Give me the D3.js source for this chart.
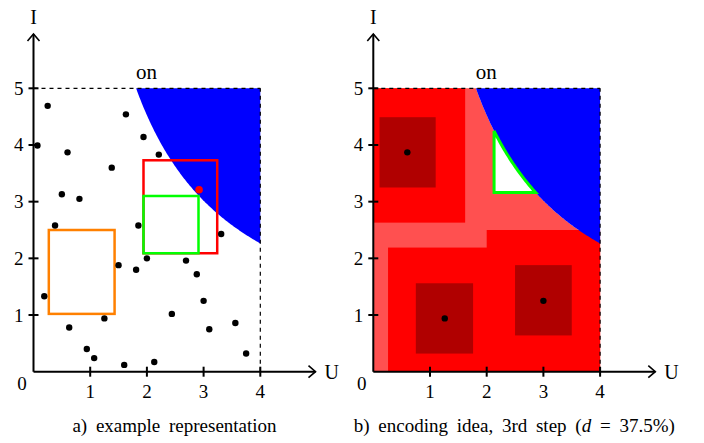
<!DOCTYPE html>
<html><head><meta charset="utf-8">
<script src="https://cdn.jsdelivr.net/npm/d3@7"></script>
<style>body{margin:0;background:#fff}svg{display:block}text{font-family:"Liberation Serif","Times New Roman",serif;fill:#000}</style>
</head><body><svg id="c" width="704" height="443"></svg>
<script>
// ---- data ----
const uTicks = [1, 2, 3, 4];
const iTicks = [1, 2, 3, 4, 5];
const uMax = 4, iMax = 5;
const powerLimit = 9.05;              // boundary of "on" region: U * I = P
const pointsU = [0.25,1.63,0.07,1.94,0.60,2.21,1.38,0.50,0.81,0.38,1.85,3.31,1.50,2.00,1.81,2.69,2.88,0.19,3.00,2.44,1.25,0.63,3.10,3.56,0.94,1.07,1.60,2.13,3.75];
const pointsI = [4.69,4.54,3.99,4.14,3.87,3.83,3.60,3.13,3.05,2.58,2.58,2.43,1.88,2.00,1.80,1.96,1.72,1.33,1.25,1.02,0.94,0.78,0.75,0.86,0.40,0.24,0.12,0.17,0.32];
const highlightPoint = [2.92, 3.21];
// rectangles: [u0, u1, i0, i1]
const redRect = [1.94, 3.24, 2.09, 3.73];
const greenRect = [1.94, 2.91, 2.09, 3.10];
const orangeRect = [0.27, 1.43, 1.02, 2.50];
// panel b
const redAreas = [[0, 1.62, 2.63, 5], [0.26, 4, 0, 2.19], [2.0, 4, 0, 2.50]];
const darkRects = [[0.11, 1.10, 3.25, 4.49], [0.75, 1.76, 0.32, 1.56], [2.50, 3.50, 0.64, 1.88]];
const darkPointsU = [0.60, 1.26, 3.00];
const darkPointsI = [3.87, 0.94, 1.25];
const triangleCorner = [2.13, 3.16];
const captions = ["a) example representation", "b) encoding idea, 3rd step ("];

const svg = d3.select("#c");

function panel(x0, caption, isB) {
  const x = d3.scaleLinear().domain([0, uMax]).range([x0, x0 + 226.8]);
  const y = d3.scaleLinear().domain([0, iMax]).range([371.7, 88.3]);
  const g = svg.append("g");
  const curveU = d3.range(powerLimit / iMax, uMax + 0.0001, 0.02).concat([uMax]);
  const curve = curveU.map(u => [x(u), y(powerLimit / u)]);

  if (isB) {
    const under = [[x(0), y(0)], [x(0), y(iMax)]].concat(curve).concat([[x(uMax), y(0)]]);
    g.append("path").attr("d", d3.line()(under)).attr("fill", "#ff5050");
    redAreas.forEach(r => g.append("rect").attr("x", x(r[0])).attr("y", y(r[3]))
      .attr("width", x(r[1]) - x(r[0])).attr("height", y(r[2]) - y(r[3])).attr("fill", "#ff0000"));
    darkRects.forEach(r => g.append("rect").attr("x", x(r[0])).attr("y", y(r[3]))
      .attr("width", x(r[1]) - x(r[0])).attr("height", y(r[2]) - y(r[3])).attr("fill", "#b00000"));
    darkPointsU.forEach((u, k) => g.append("circle").attr("cx", x(u)).attr("cy", y(darkPointsI[k])).attr("r", 3.2).attr("fill", "#000"));
  }
  const blue = [[x(uMax), y(iMax)]].concat(curve).concat([[x(uMax), y(iMax)]]);
  g.append("path").attr("d", d3.line()(blue) + "Z").attr("fill", "#0000ff");

  if (isB) {
    const tu = triangleCorner[0], ti = triangleCorner[1];
    const tri = [[x(tu), y(ti)]].concat(d3.range(tu, powerLimit / ti, 0.02).concat([powerLimit / ti]).map(u => [x(u), y(powerLimit / u)]));
    g.append("path").attr("d", d3.line()(tri) + "Z").attr("fill", "#fff").attr("stroke", "#00ff00").attr("stroke-width", 3).attr("stroke-linejoin", "miter");
  } else {
    const rr = (r, c) => g.append("rect").attr("x", x(r[0])).attr("y", y(r[3]))
      .attr("width", x(r[1]) - x(r[0])).attr("height", y(r[2]) - y(r[3]))
      .attr("fill", "none").attr("stroke", c).attr("stroke-width", 2.5);
    rr(redRect, "#ff0000"); rr(greenRect, "#00ff00"); rr(orangeRect, "#ff8000");
    pointsU.forEach((u, k) => g.append("circle").attr("cx", x(u)).attr("cy", y(pointsI[k])).attr("r", 3.2).attr("fill", "#000"));
    g.append("circle").attr("cx", x(highlightPoint[0])).attr("cy", y(highlightPoint[1])).attr("r", 3.8).attr("fill", "#ff0000");
  }

  g.append("line").attr("x1", x(0)).attr("x2", x(uMax)).attr("y1", y(iMax)).attr("y2", y(iMax))
    .attr("stroke", "#000").attr("stroke-width", 1.2).attr("stroke-dasharray", "4,4");
  g.append("line").attr("x1", x(uMax)).attr("x2", x(uMax)).attr("y1", y(0)).attr("y2", y(iMax))
    .attr("stroke", "#000").attr("stroke-width", 1.2).attr("stroke-dasharray", "4,4");

  const ax = g.append("g").attr("stroke", "#000").attr("stroke-width", 2).attr("fill", "none");
  ax.append("line").attr("x1", x(0)).attr("x2", x(0) + 282).attr("y1", y(0)).attr("y2", y(0));
  ax.append("line").attr("x1", x(0)).attr("x2", x(0)).attr("y1", y(0)).attr("y2", 34);
  ax.append("path").attr("d", `M${x(0) + 275},${y(0) - 6} L${x(0) + 282},${y(0)} L${x(0) + 275},${y(0) + 6}`).attr("stroke-width", 1.6);
  ax.append("path").attr("d", `M${x(0) - 6},41 L${x(0)},34 L${x(0) + 6},41`).attr("stroke-width", 1.6);
  uTicks.forEach(t => ax.append("line").attr("x1", x(t)).attr("x2", x(t)).attr("y1", y(0) - 5).attr("y2", y(0) + 5));
  iTicks.forEach(t => ax.append("line").attr("x1", x(0) - 5).attr("x2", x(0) + 5).attr("y1", y(t)).attr("y2", y(t)));

  uTicks.forEach(t => g.append("text").attr("x", x(t)).attr("y", 397.5).attr("text-anchor", "middle").attr("font-size", 19).text(t));
  iTicks.forEach(t => g.append("text").attr("x", x(0) - 10).attr("y", y(t) + 6.5).attr("text-anchor", "end").attr("font-size", 19).text(t));
  g.append("text").attr("x", x(0) - 11.5).attr("y", 390).attr("text-anchor", "middle").attr("font-size", 19).text("0");
  g.append("text").attr("x", x(0)).attr("y", 23.5).attr("text-anchor", "middle").attr("font-size", 20).text("I");
  g.append("text").attr("x", x(0) + 291).attr("y", 379).attr("font-size", 20).text("U");
  g.append("text").attr("x", x(0) + 113).attr("y", 79).attr("text-anchor", "middle").attr("font-size", 21).text("on");

  const cap = g.append("text").attr("x", x(0) + 141).attr("y", 432).attr("text-anchor", "middle")
    .attr("font-size", 19).attr("word-spacing", 4);
  if (!isB) cap.text(caption);
  else {
    cap.append("tspan").text(caption);
    cap.append("tspan").attr("font-style", "italic").text("d");
    cap.append("tspan").text(" = 37.5%)");
  }
}
panel(33.5, captions[0], false);
panel(373.3, captions[1], true);
</script></body></html>
